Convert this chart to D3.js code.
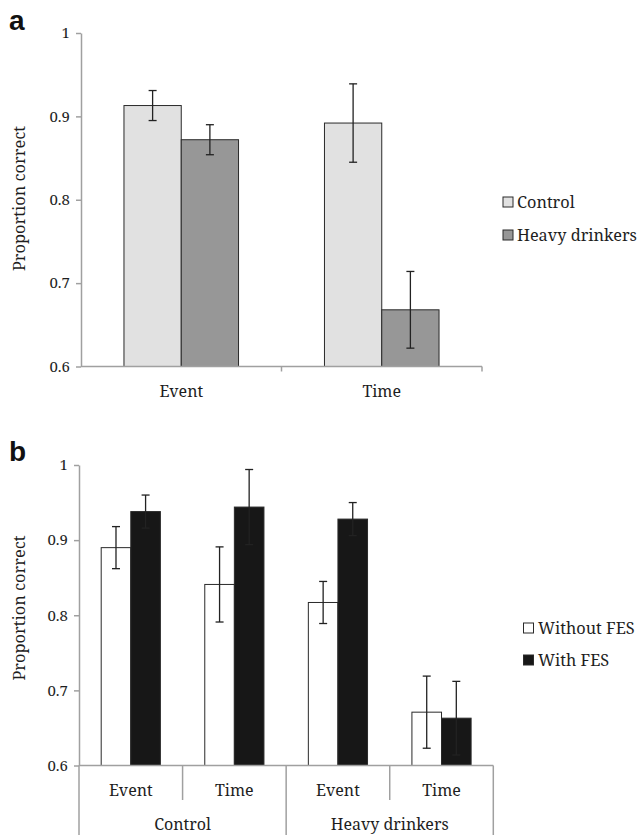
<!DOCTYPE html>
<html>
<head>
<meta charset="utf-8">
<script src="https://cdn.jsdelivr.net/npm/d3@7"></script>
<style>
  body { margin: 0; background: #fff; }
  svg { display: block; }
</style>
</head>
<body>
<svg id="chart" width="638" height="835"></svg>
<script>
// ---------- Data ----------
// Panel a
const catsA = ["Event", "Time"];
const seriesA = ["Control", "Heavy drinkers"];
const valuesA = {
  "Control":        [0.913, 0.892],
  "Heavy drinkers": [0.872, 0.668]
};
const errorsA = {
  "Control":        [0.018, 0.047],
  "Heavy drinkers": [0.018, 0.046]
};
// Panel b
const groupsB = ["Control", "Heavy drinkers"];
const catsB = ["Event", "Time"];
const seriesB = ["Without FES", "With FES"];
const valuesB = {
  "Without FES": [0.890, 0.841, 0.817, 0.671],
  "With FES":    [0.938, 0.944, 0.928, 0.663]
};
const errorsB = {
  "Without FES": [0.028, 0.050, 0.028, 0.048],
  "With FES":    [0.022, 0.050, 0.022, 0.049]
};
const yTicks = [0.6, 0.7, 0.8, 0.9, 1];
const yTickLabels = ["0.6", "0.7", "0.8", "0.9", "1"];
const yTitle = "Proportion correct";

// ---------- Styles ----------
const FONT = "'Noto Serif', serif";
const textColor = "#1e1e1e";
const axisColor = "#a0a0a0";
const barStroke = "#2a2a2a";
const errColor = "#222";
const fillsA = {"Control": "#e1e1e1", "Heavy drinkers": "#979797"};
const fillsB = {"Without FES": "#ffffff", "With FES": "#171717"};

const svg = d3.select("#chart");

function txt(sel, size) {
  return sel.style("font-family", FONT).style("font-size", size + "px").style("fill", textColor);
}

function panel(opts) {
  const g = svg.append("g");
  const y = d3.scaleLinear().domain([0.6, 1]).range([opts.bottom, opts.top]);
  const x = d3.scaleBand().domain(opts.cats).range([opts.left, opts.right]).padding(0);
  const bw = x.bandwidth();
  const xs = d3.scaleBand().domain(opts.series).range([bw * 0.2143, bw * 0.7857]).padding(0);

  // bars
  opts.series.forEach(s => {
    const data = opts.cats.map((c, i) => ({c, v: opts.values[s][i], e: opts.errors[s][i]}));
    g.selectAll(null).data(data).enter().append("rect")
      .attr("x", d => x(d.c) + xs(s))
      .attr("y", d => y(d.v))
      .attr("width", xs.bandwidth())
      .attr("height", d => y(0.6) - y(d.v))
      .attr("fill", opts.fills[s])
      .attr("stroke", barStroke)
      .attr("stroke-width", 1);
  });
  // error bars
  opts.series.forEach(s => {
    const data = opts.cats.map((c, i) => ({c, v: opts.values[s][i], e: opts.errors[s][i]}));
    const cx = d => x(d.c) + xs(s) + xs.bandwidth() / 2;
    const eg = g.selectAll(null).data(data).enter().append("g")
      .attr("stroke", errColor).attr("stroke-width", 1.3);
    eg.append("line").attr("x1", cx).attr("x2", cx)
      .attr("y1", d => y(d.v + d.e)).attr("y2", d => y(d.v - d.e));
    eg.append("line").attr("x1", d => cx(d) - 4).attr("x2", d => cx(d) + 4)
      .attr("y1", d => y(d.v + d.e)).attr("y2", d => y(d.v + d.e));
    eg.append("line").attr("x1", d => cx(d) - 4).attr("x2", d => cx(d) + 4)
      .attr("y1", d => y(d.v - d.e)).attr("y2", d => y(d.v - d.e));
  });

  // y axis
  const yAxis = d3.axisLeft(y).tickValues(yTicks)
    .tickFormat((d, i) => yTickLabels[i]).tickSize(5).tickSizeOuter(0).tickPadding(6);
  const ya = g.append("g").attr("transform", `translate(${opts.left},0)`).call(yAxis);
  ya.select(".domain").attr("stroke", axisColor).attr("stroke-width", 1.5);
  ya.selectAll(".tick line").attr("stroke", axisColor).attr("stroke-width", 1.5);
  txt(ya.selectAll(".tick text"), 15);

  // y title
  txt(g.append("text")
    .attr("transform", `translate(${opts.titleX},${opts.titleY}) rotate(-90)`)
    .attr("text-anchor", "middle").attr("dominant-baseline", "central")
    .text(yTitle), 16.4);

  // panel letter
  g.append("text").attr("x", 9).attr("y", opts.letterY)
    .style("font-family", "'Liberation Sans', Arial, sans-serif")
    .style("font-weight", "bold").style("font-size", "28px").style("fill", "#111")
    .text(opts.letter);

  return {g, x, y, bw};
}

// ---------- Panel a ----------
const pa = panel({
  cats: catsA, series: seriesA, values: valuesA, errors: errorsA, fills: fillsA,
  left: 81, right: 482, top: 33, bottom: 366.5,
  titleX: 18, titleY: 198.5, letter: "a", letterY: 30
});
{
  const g = pa.g, x = pa.x, yb = 366.5;
  g.append("line").attr("x1", 81).attr("x2", 482).attr("y1", yb).attr("y2", yb)
    .attr("stroke", axisColor).attr("stroke-width", 1.5);
  const bounds = catsA.map(c => x(c)).concat([x(catsA[catsA.length - 1]) + pa.bw]);
  g.selectAll(null).data(bounds.slice(1)).enter().append("line")
    .attr("x1", d => d).attr("x2", d => d).attr("y1", yb).attr("y2", yb + 5)
    .attr("stroke", axisColor).attr("stroke-width", 1.5);
  txt(g.selectAll(null).data(catsA).enter().append("text")
    .attr("x", d => x(d) + pa.bw / 2).attr("y", yb + 30)
    .attr("text-anchor", "middle").text(d => d), 16);
  // legend
  const lg = g.append("g");
  seriesA.forEach((s, i) => {
    const cy = 202 + i * 33;
    lg.append("rect").attr("x", 503).attr("y", cy - 5).attr("width", 10).attr("height", 10)
      .attr("fill", fillsA[s]).attr("stroke", barStroke).attr("stroke-width", 1);
    txt(lg.append("text").attr("x", 517).attr("y", cy).attr("dominant-baseline", "central")
      .text(s), 16.3);
  });
}

// ---------- Panel b ----------
const catsBflat = [];
groupsB.forEach(gname => catsB.forEach(c => catsBflat.push(gname + "|" + c)));
const pb = panel({
  cats: catsBflat, series: seriesB, values: valuesB, errors: errorsB, fills: fillsB,
  left: 79, right: 493.3, top: 465, bottom: 765.5,
  titleX: 18, titleY: 608, letter: "b", letterY: 461
});
{
  const g = pb.g, x = pb.x, yb = 765.5, bw = pb.bw;
  g.append("line").attr("x1", 79).attr("x2", 493.3).attr("y1", yb).attr("y2", yb)
    .attr("stroke", axisColor).attr("stroke-width", 1.5);
  // separators
  catsBflat.forEach((c, i) => {
    const isGroupStart = i % catsB.length === 0;
    g.append("line").attr("x1", x(c)).attr("x2", x(c))
      .attr("y1", yb).attr("y2", isGroupStart ? 835 : 800)
      .attr("stroke", axisColor).attr("stroke-width", 1.5);
  });
  g.append("line").attr("x1", 493.3).attr("x2", 493.3).attr("y1", yb).attr("y2", 835)
    .attr("stroke", axisColor).attr("stroke-width", 1.5);
  txt(g.selectAll(null).data(catsBflat).enter().append("text")
    .attr("x", d => x(d) + bw / 2).attr("y", 796)
    .attr("text-anchor", "middle").text(d => d.split("|")[1]), 16);
  txt(g.selectAll(null).data(groupsB).enter().append("text")
    .attr("x", d => x(d + "|" + catsB[0]) + bw * catsB.length / 2).attr("y", 830)
    .attr("text-anchor", "middle").text(d => d), 16);
  const lg = g.append("g");
  seriesB.forEach((s, i) => {
    const cy = 628 + i * 32;
    lg.append("rect").attr("x", 523.5).attr("y", cy - 5).attr("width", 10).attr("height", 10)
      .attr("fill", fillsB[s]).attr("stroke", barStroke).attr("stroke-width", 1);
    txt(lg.append("text").attr("x", 538).attr("y", cy).attr("dominant-baseline", "central")
      .text(s), 16.3);
  });
}
</script>
</body>
</html>
